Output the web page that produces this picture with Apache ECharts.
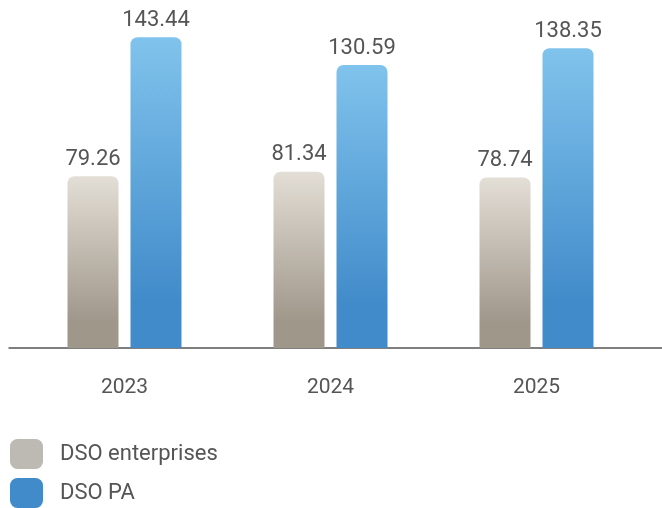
<!DOCTYPE html>
<html>
<head>
<meta charset="utf-8">
<script src="https://cdn.jsdelivr.net/npm/echarts@6/dist/echarts.min.js"></script>
<style>
  html, body { margin: 0; padding: 0; background: #fff; }
  #chart { width: 662px; height: 508px; }
</style>
</head>
<body>
<div id="chart"></div>
<script>
// Reporting years and days-sales-outstanding figures
const years = ['2023', '2024', '2025'];
const dsoEnterprises = [79.26, 81.34, 78.74];
const dsoPA = [143.44, 130.59, 138.35];
const seriesNames = ['DSO enterprises', 'DSO PA'];
const legendColors = ['#bdbab4', '#418bca'];

const FONT = 'Roboto, "Noto Sans", sans-serif';
const TEXT = '#555555';

function vGrad(top, bottom) {
  return new echarts.graphic.LinearGradient(0, 0, 0, 1, [
    { offset: 0, color: top },
    { offset: 0.85, color: bottom },
    { offset: 1, color: bottom }
  ]);
}

// one legend block per series, stacked under the plot
function legendBlock(i, top) {
  return {
    orient: 'vertical',
    left: 10,
    top: top,
    padding: 0,
    itemWidth: 33,
    itemHeight: 30,
    icon: 'roundRect',
    textStyle: { color: TEXT, fontFamily: FONT, fontSize: 22, padding: [0, 0, 0, 12] },
    data: [{ name: seriesNames[i], itemStyle: { color: legendColors[i] } }]
  };
}

const chart = echarts.init(document.getElementById('chart'), null, { renderer: 'canvas' });

const valueLabel = {
  show: true,
  position: 'top',
  distance: 6,
  color: TEXT,
  fontFamily: FONT,
  fontSize: 22,
  formatter: p => p.value.toFixed(2)
};

chart.setOption({
  animation: false,
  backgroundColor: '#ffffff',
  textStyle: { fontFamily: FONT },
  grid: [
    { left: 21.5, width: 618, top: 23, bottom: 160, containLabel: false },
    // wider grid that only carries the baseline rule
    { left: 9, right: 0, top: 23, bottom: 160, containLabel: false }
  ],
  legend: [legendBlock(0, 439), legendBlock(1, 478)],
  xAxis: [
    {
      type: 'category',
      gridIndex: 0,
      data: years,
      axisLine: { show: false },
      axisTick: { show: false },
      axisLabel: { color: TEXT, fontFamily: FONT, fontSize: 21, margin: 29 }
    },
    {
      type: 'value',
      gridIndex: 1,
      min: 0, max: 1,
      axisLine: { show: true, onZero: false, lineStyle: { color: '#555555', width: 1.5 } },
      axisTick: { show: false },
      axisLabel: { show: false },
      splitLine: { show: false }
    }
  ],
  yAxis: [
    {
      type: 'value',
      gridIndex: 0,
      min: 0,
      max: 150,
      show: false,
      splitLine: { show: false }
    },
    {
      type: 'value',
      gridIndex: 1,
      min: 0, max: 1,
      show: false
    }
  ],
  series: [
    {
      name: seriesNames[0],
      type: 'bar',
      xAxisIndex: 0,
      yAxisIndex: 0,
      data: dsoEnterprises,
      barWidth: 51,
      barGap: '23.5%',
      itemStyle: {
        color: vGrad('#e3ded6', '#a0978b'),
        borderRadius: [7, 7, 0, 0]
      },
      label: valueLabel
    },
    {
      name: seriesNames[1],
      type: 'bar',
      xAxisIndex: 0,
      yAxisIndex: 0,
      data: dsoPA,
      barWidth: 51,
      barGap: '23.5%',
      itemStyle: {
        color: vGrad('#80c3ec', '#418bca'),
        borderRadius: [7, 7, 0, 0]
      },
      label: valueLabel
    }
  ]
});
</script>
</body>
</html>
